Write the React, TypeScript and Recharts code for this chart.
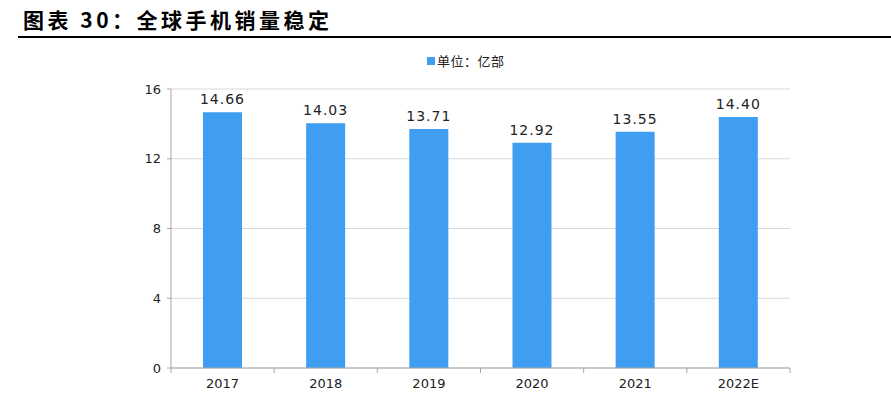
import { Bar, BarChart, CartesianGrid, LabelList, XAxis, YAxis } from "recharts";

const years = ["2017", "2018", "2019", "2020", "2021", "2022E"];
const sales = [14.66, 14.03, 13.71, 12.92, 13.55, 14.4];
const yTicks = [0, 4, 8, 12, 16];

const data = years.map((year, i) => ({ year, 销量: sales[i] }));

const BAND = (790 - 171) / years.length;
const AXIS = "#a6a6a6";
const NUM_FONT = "'DejaVu Sans', sans-serif";

function YearTick(props: any) {
  const { x, y, payload, index } = props;
  const last = index === years.length - 1;
  return (
    <g>
      <line x1={x - BAND / 2} x2={x - BAND / 2} y1={y - 8} y2={y - 3} stroke={AXIS} />
      {last && <line x1={x + BAND / 2} x2={x + BAND / 2} y1={y - 8} y2={y - 3} stroke={AXIS} />}
      <text x={x} y={y + 12} textAnchor="middle" fontSize={13} fill="#222" fontFamily={NUM_FONT}>
        {payload.value}
      </text>
    </g>
  );
}

export default function App() {
  return (
    <div style={{ position: "absolute", left: 0, top: 0, width: 891, height: 395, background: "#fff" }}>
      <div
        style={{
          position: "absolute",
          left: 23,
          top: 4,
          fontFamily: "'Noto Sans CJK SC', sans-serif",
          fontWeight: 700,
          fontSize: 21,
          letterSpacing: 3.5,
          color: "#000",
        }}
      >
        图表 30：全球手机销量稳定
      </div>
      <div style={{ position: "absolute", left: 18, right: 0, top: 36, height: 2, background: "#000" }} />
      <div
        style={{
          position: "absolute",
          left: 427,
          top: 51,
          display: "flex",
          alignItems: "center",
          fontFamily: "'Noto Sans CJK SC', sans-serif",
          fontSize: 13,
          letterSpacing: 0.5,
          color: "#222",
        }}
      >
        <span style={{ width: 8, height: 8, background: "#3f9ef1", marginRight: 2, display: "inline-block" }} />
        单位：亿部
      </div>
      <div style={{ position: "absolute", left: 0, top: 0 }}>
        <BarChart
          width={891}
          height={395}
          data={data}
          margin={{ top: 89, right: 101, left: 131, bottom: 2 }}
          barCategoryGap="31%"
        >
          <CartesianGrid stroke="#d9d9d9" vertical={false} />
          <XAxis
            dataKey="year"
            stroke={AXIS}
            tickLine={false}
            height={25}
            tick={<YearTick />}
            interval={0}
          />
          <YAxis
            domain={[0, 16]}
            ticks={yTicks}
            width={40}
            stroke={AXIS}
            tickSize={4}
            tickMargin={6}
            tick={{ fill: "#222", fontSize: 13, fontFamily: NUM_FONT }}
          />
          <Bar dataKey="销量" fill="#3f9ef1" isAnimationActive={false}>
            <LabelList
              dataKey="销量"
              position="top"
              offset={8}
              formatter={(v: any) => Number(v).toFixed(2)}
              style={{ fill: "#222", fontSize: 14, fontFamily: NUM_FONT, letterSpacing: 1 }}
            />
          </Bar>
        </BarChart>
      </div>
    </div>
  );
}
